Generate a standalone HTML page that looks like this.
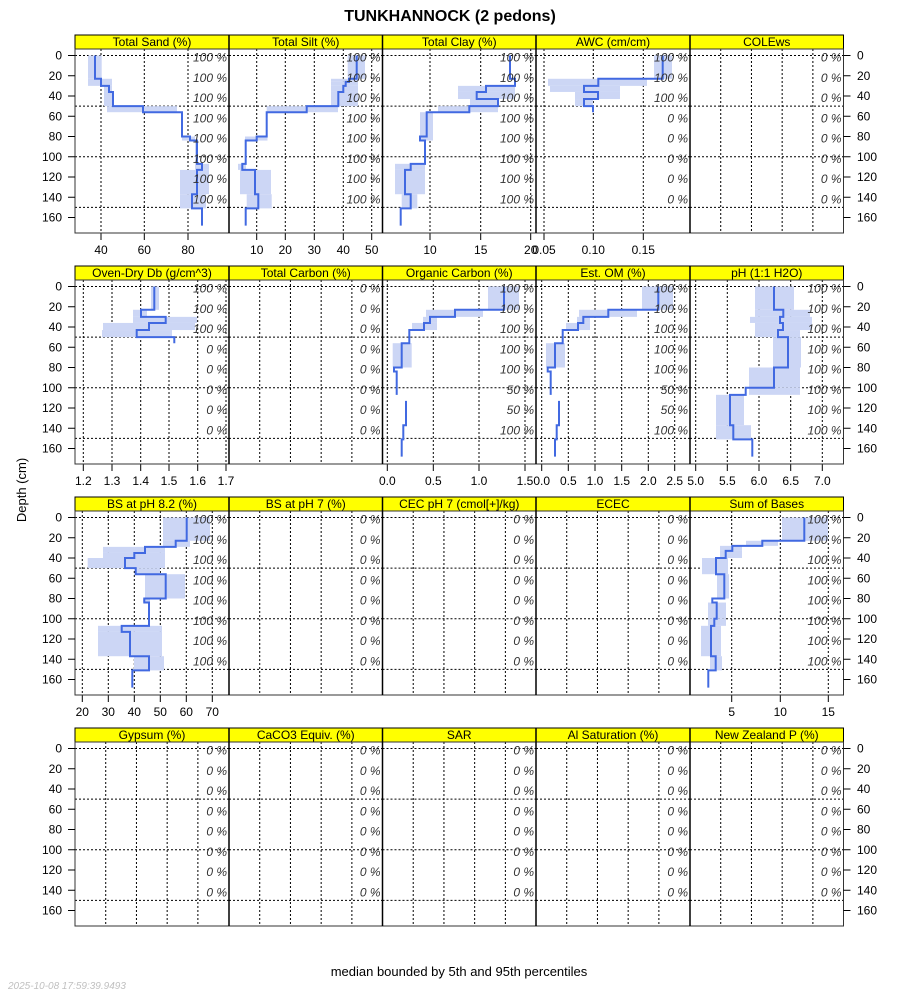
<!DOCTYPE html>
<html><head><meta charset="utf-8">
<style>
body{margin:0;background:#fff;}
svg{display:block;font-family:"Liberation Sans",sans-serif;}
</style></head>
<body>
<svg id="s" width="900" height="1000" xmlns="http://www.w3.org/2000/svg">
<text x="450" y="21" text-anchor="middle" font-size="16" font-weight="bold">TUNKHANNOCK (2 pedons)</text>
<text transform="translate(26,490) rotate(-90)" text-anchor="middle" font-size="13">Depth (cm)</text>
<text x="459" y="976" text-anchor="middle" font-size="13">median bounded by 5th and 95th percentiles</text>
<text x="8" y="989" font-size="10" font-style="italic" fill="#c0c0c0">2025-10-08 17:59:39.9493</text>
<g id="g"></g>
</svg>
<script>
var NS="http://www.w3.org/2000/svg",G=document.getElementById("g");
function el(t,a,txt){var e=document.createElementNS(NS,t);for(var k in a)e.setAttribute(k,a[k]);if(txt!==undefined)e.textContent=txt;G.appendChild(e);return e;}
var L=[75,229,382.5,536,690],R=843.5,W=153.6,TOPS=[49,280,511,742];
function Y(r,d){return TOPS[r]+6.5+d*1.0125;}
var names=[["Total Sand (%)","Total Silt (%)","Total Clay (%)","AWC (cm/cm)","COLEws"],
["Oven-Dry Db (g/cm^3)","Total Carbon (%)","Organic Carbon (%)","Est. OM (%)","pH (1:1 H2O)"],
["BS at pH 8.2 (%)","BS at pH 7 (%)","CEC pH 7 (cmol[+]/kg)","ECEC","Sum of Bases"],
["Gypsum (%)","CaCO3 Equiv. (%)","SAR","Al Saturation (%)","New Zealand P (%)"]];
var H=[100,100,100,100,100,100,100,100],Z=[0,0,0,0,0,0,0,0],A=[100,100,100,0,0,0,0,0],O=[100,100,100,100,100,50,50,100];
var pct=[[H,H,H,A,Z],[A,Z,O,O,H],[H,Z,Z,Z,H],[Z,Z,Z,Z,Z]];
function eg(i){var a=[];for(var k=1;k<5;k++)a.push([L[i]+W*k/5,null]);return a;}
var ticks=[
[[[101,"40"],[144.3,"60"],[188,"80"]],[[256.7,"10"],[285.3,"20"],[314.3,"30"],[343.3,"40"],[371.7,"50"]],[[430,"10"],[480.7,"15"],[530.7,"20"]],[[544,"0.05"],[593.3,"0.10"],[643.3,"0.15"]],eg(4)],
[[[83.3,"1.2"],[112,"1.3"],[140.7,"1.4"],[169,"1.5"],[197.7,"1.6"],[226,"1.7"]],eg(1),[[387.3,"0.0"],[433.3,"0.5"],[479,"1.0"],[525,"1.5"]],[[541.7,"0.0"],[568.3,"0.5"],[595,"1.0"],[621.7,"1.5"],[648.3,"2.0"],[674.7,"2.5"]],[[695.7,"5.0"],[727.3,"5.5"],[759,"6.0"],[790.7,"6.5"],[822.3,"7.0"]]],
[[[82.3,"20"],[108.3,"30"],[134.3,"40"],[160.3,"50"],[186.3,"60"],[212.3,"70"]],eg(1),eg(2),eg(3),[[731.7,"5"],[780.3,"10"],[828.3,"15"]]],
[eg(0),eg(1),eg(2),eg(3),eg(4)]];
// segments: [dTop,dBot,med,lo,hi,gapBefore]
var D={
"0,0":[[0,23,95,88,101.7],[23,30,101,88,112],[30,36,109,104,112],[36,50,113,104,113],[50,56,143,107,177],[56,80,182],[80,84,190,182,195],[84,107,197,195,198],[107,113,202,195,209],[113,137,197,180,209],[137,151,192,180,206],[151,168,202]],
"0,1":[[0,23,356.7,347.7,365],[23,26,349,331,358],[26,30,345.7,331,358],[30,36,343.3,331,358],[36,50,338.3,331,358],[50,56,306.7,266.7,338],[56,80,266.7],[80,84,256.7,245,267.5],[84,107,245.7],[107,113,242.3,238,246],[113,137,255,240,271],[137,151,258.3,246.7,271.7],[151,168,245.7]],
"0,2":[[0,23,510],[23,30,515],[30,36,486,458,515],[36,43,476.7,458,515],[43,50,498,470,498],[50,56,469.3,438,498],[56,80,426.7,420,433],[80,84,420,420,433],[84,107,425],[107,113,410.7,395,425],[113,137,405,395,425],[137,151,410.7,401.7,417.3],[151,168,400.7]],
"0,3":[[0,23,662.7,654,672],[23,30,598.3,548,647],[30,36,584,550,620],[36,43,598,575,620],[43,50,584,575,593],[50,56,593]],
"1,0":[[0,23,154.3,151,159],[23,30,141,133,147],[30,36,165.7,133,197],[36,43,149,103,195],[43,50,136.7,102,172],[50,56,174.3]],
"1,2":[[0,23,504,488,519],[23,30,455,426,483],[30,36,430,423,437],[36,43,424,412,437],[43,56,409.3],[56,80,401.7,392.7,411.7],[80,84,394],[84,107,396.7],[113,137,406,0,0,1],[137,151,403.3],[151,168,401.7]],
"1,3":[[0,23,658.3,642,673],[23,30,608.3,579,637],[30,36,583.3,577,590],[36,43,578,566,590],[43,56,562.7],[56,80,555,546,565],[80,84,547.7],[84,107,550.7],[113,137,559,0,0,1],[137,151,556.7],[151,168,555]],
"1,4":[[0,23,774,755,794],[23,30,783.3,755,810],[30,36,780,750,812],[36,43,783,755,812],[43,50,778,755,800],[50,80,788,773,801],[80,100,774,749,800],[100,107,745.7,749,800],[107,137,730,716,744],[137,151,733.3,716,751],[151,168,752.3]],
"2,0":[[0,23,186.7,163,210],[23,29,175.7,163,190],[29,35,145,103,165],[35,40,134.3,103,165],[40,50,125,87.7,165],[50,56,135.7,135,160],[56,80,165.7,145,185],[80,84,144.3,143,150],[84,107,149],[107,113,121.7,98,162],[113,137,130,98,162],[137,151,149,134,164],[151,168,132.3]],
"2,4":[[0,23,804.3,782,828],[23,28,762.3,746,778],[28,33,732.3,720,742],[33,40,725.7,720,742],[40,56,716,702,728],[56,80,724.3,717,729],[80,84,712.3],[84,100,716.7,708,726],[100,107,714.3,708,726],[107,137,711,701,721],[137,151,715.7,710,722],[151,168,708.3]]
};
for(var r=0;r<4;r++){
 var T=TOPS[r],B=T+184;
 for(var i=0;i<5;i++){
  var x0=L[i],x1=(i<4?L[i+1]:R);
  el("rect",{x:x0,y:T-14,width:x1-x0,height:14,fill:"#ffff00",stroke:"#000","stroke-width":1});
  el("text",{x:(x0+x1)/2,y:T-3,"text-anchor":"middle","font-size":12},names[r][i]);
  // grid
  var tk=ticks[r][i];
  tk.forEach(function(t){el("line",{x1:t[0],x2:t[0],y1:T,y2:B,stroke:"#000","stroke-width":1,"stroke-dasharray":"2,2"});});
  [0,50,100,150].forEach(function(d){el("line",{x1:x0,x2:x1,y1:Y(r,d),y2:Y(r,d),stroke:"#000","stroke-width":1,"stroke-dasharray":"2,2"});});
  var sg=D[r+","+i];
  if(sg){
   sg.forEach(function(s){if(s.length>=5&&s[4]>s[3])el("rect",{x:s[3],y:Y(r,s[0]),width:s[4]-s[3],height:Y(r,s[1])-Y(r,s[0]),fill:"#ccd6f5"});});
   var p="";
   sg.forEach(function(s,k){var yt=Y(r,s[0]),yb=Y(r,s[1]);
     if(k==0||s[5])p+="M"+s[2]+","+yt;else p+="H"+s[2];
     p+="V"+yb;});
   el("path",{d:p,fill:"none",stroke:"#4169e1","stroke-width":2});
  }
  var pv=pct[r][i];
  for(var k=0;k<8;k++)el("text",{x:x1-2,y:Y(r,2+20*k)+4,"text-anchor":"end","font-size":12,"font-style":"italic",fill:"#333"},pv[k]+" %");
  // x ticks
  tk.forEach(function(t){if(t[1]!==null){el("line",{x1:t[0],x2:t[0],y1:B,y2:B+7,stroke:"#000"});el("text",{x:t[0],y:B+21,"text-anchor":"middle","font-size":12},t[1]);}});
 }
 el("rect",{x:75,y:T,width:R-75,height:184,fill:"none",stroke:"#333","stroke-width":1});
 for(var i=1;i<5;i++)el("line",{x1:L[i],x2:L[i],y1:T-14,y2:B,stroke:"#000","stroke-width":1.5});
 for(var d=0;d<=160;d+=20){var y=Y(r,d);
  el("line",{x1:68,x2:75,y1:y,y2:y,stroke:"#000"});
  el("line",{x1:R,x2:R+7,y1:y,y2:y,stroke:"#000"});
  el("text",{x:62,y:y+4,"text-anchor":"end","font-size":12},String(d));
  el("text",{x:857,y:y+4,"font-size":12},String(d));}
}
</script>
</body></html>
